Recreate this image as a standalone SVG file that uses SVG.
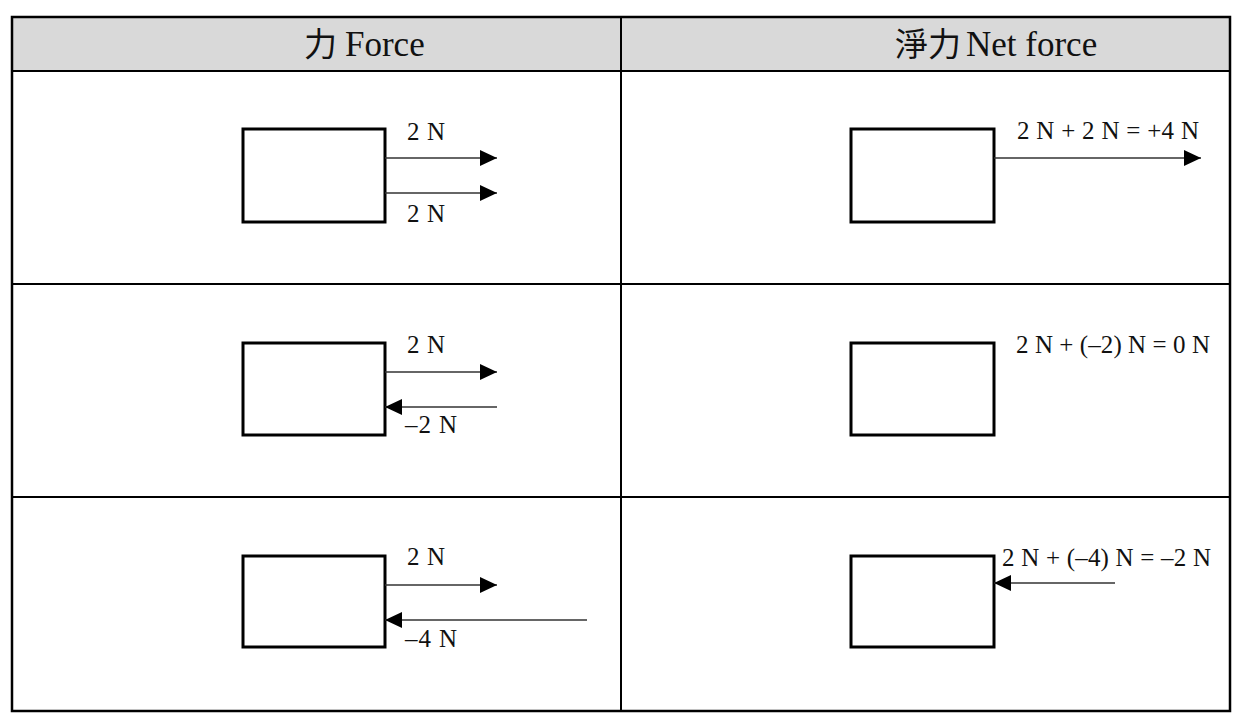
<svg xmlns="http://www.w3.org/2000/svg" width="1240" height="720" viewBox="0 0 1240 720">
  <style>
    .grid { stroke: #000; stroke-width: 2; fill: none; }
    .outer { stroke: #000; stroke-width: 2.5; fill: none; }
    .head { fill: #d9d9d9; }
    .htxt { font-family: "Liberation Serif", serif; font-size: 35px; fill: #111; }
    .cjk { font-family: "Noto Sans CJK TC", "Noto Sans CJK SC", sans-serif; font-size: 33px; }
    .box { fill: #fff; stroke: #000; stroke-width: 3; }
    .arrow { stroke: #333; stroke-width: 1.6; fill: none; marker-end: url(#ah); }
    .lbl { font-family: "Liberation Serif", "DejaVu Serif", serif; font-size: 25px; fill: #111; }
  </style>
  <defs>
    <marker id="ah" markerUnits="userSpaceOnUse" markerWidth="18" markerHeight="17" refX="17" refY="8" orient="auto">
      <path d="M0,0 L17,8 L0,16 Z" fill="#000"/>
    </marker>
  </defs>
  <rect width="1240" height="720" fill="#fff"/>

  <g id="table">
    <rect class="head" x="12" y="17" width="1218" height="54"/>
    <line class="grid" x1="12" y1="71" x2="1230" y2="71"/>
    <line class="grid" x1="12" y1="284" x2="1230" y2="284"/>
    <line class="grid" x1="12" y1="497" x2="1230" y2="497"/>
    <line class="grid" x1="621" y1="17" x2="621" y2="711"/>
    <rect class="outer" x="12" y="17" width="1218" height="694"/>
    <text class="htxt" y="56"><tspan class="cjk" x="304">力</tspan><tspan x="345">Force</tspan></text>
    <text class="htxt" y="56"><tspan class="cjk" x="895">淨力</tspan><tspan x="966">Net force</tspan></text>
  </g>

  <g id="box-r1-force"><rect class="box" x="243" y="129" width="142" height="93"/></g>
  <g id="box-r1-net"><rect class="box" x="851" y="129" width="143" height="93"/></g>
  <g id="box-r2-force"><rect class="box" x="243" y="343" width="142" height="92"/></g>
  <g id="box-r2-net"><rect class="box" x="851" y="343" width="143" height="92"/></g>
  <g id="box-r3-force"><rect class="box" x="243" y="556" width="142" height="91"/></g>
  <g id="box-r3-net"><rect class="box" x="851" y="556" width="143" height="91"/></g>

  <g id="connectors">
    <line class="arrow" x1="385" y1="158" x2="497" y2="158"/>
    <line class="arrow" x1="385" y1="193" x2="497" y2="193"/>
    <line class="arrow" x1="994" y1="158" x2="1201" y2="158"/>
    <line class="arrow" x1="385" y1="372" x2="497" y2="372"/>
    <line class="arrow" x1="497" y1="407" x2="385" y2="407"/>
    <line class="arrow" x1="385" y1="585" x2="497" y2="585"/>
    <line class="arrow" x1="587" y1="620" x2="385" y2="620"/>
    <line class="arrow" x1="1115" y1="583" x2="994" y2="583"/>
  </g>

  <g id="labels">
    <text class="lbl" x="407" y="140" textLength="38">2 N</text>
    <text class="lbl" x="407" y="222" textLength="38">2 N</text>
    <text class="lbl" x="1017" y="139" textLength="182">2 N + 2 N = +4 N</text>
    <text class="lbl" x="407" y="353" textLength="38">2 N</text>
    <text class="lbl" x="405" y="433" textLength="52">–2 N</text>
    <text class="lbl" x="1016" y="353" textLength="194">2 N + (–2) N = 0 N</text>
    <text class="lbl" x="407" y="565" textLength="38">2 N</text>
    <text class="lbl" x="405" y="647" textLength="52">–4 N</text>
    <text class="lbl" x="1002" y="566" textLength="209">2 N + (–4) N = –2 N</text>
  </g>
</svg>
